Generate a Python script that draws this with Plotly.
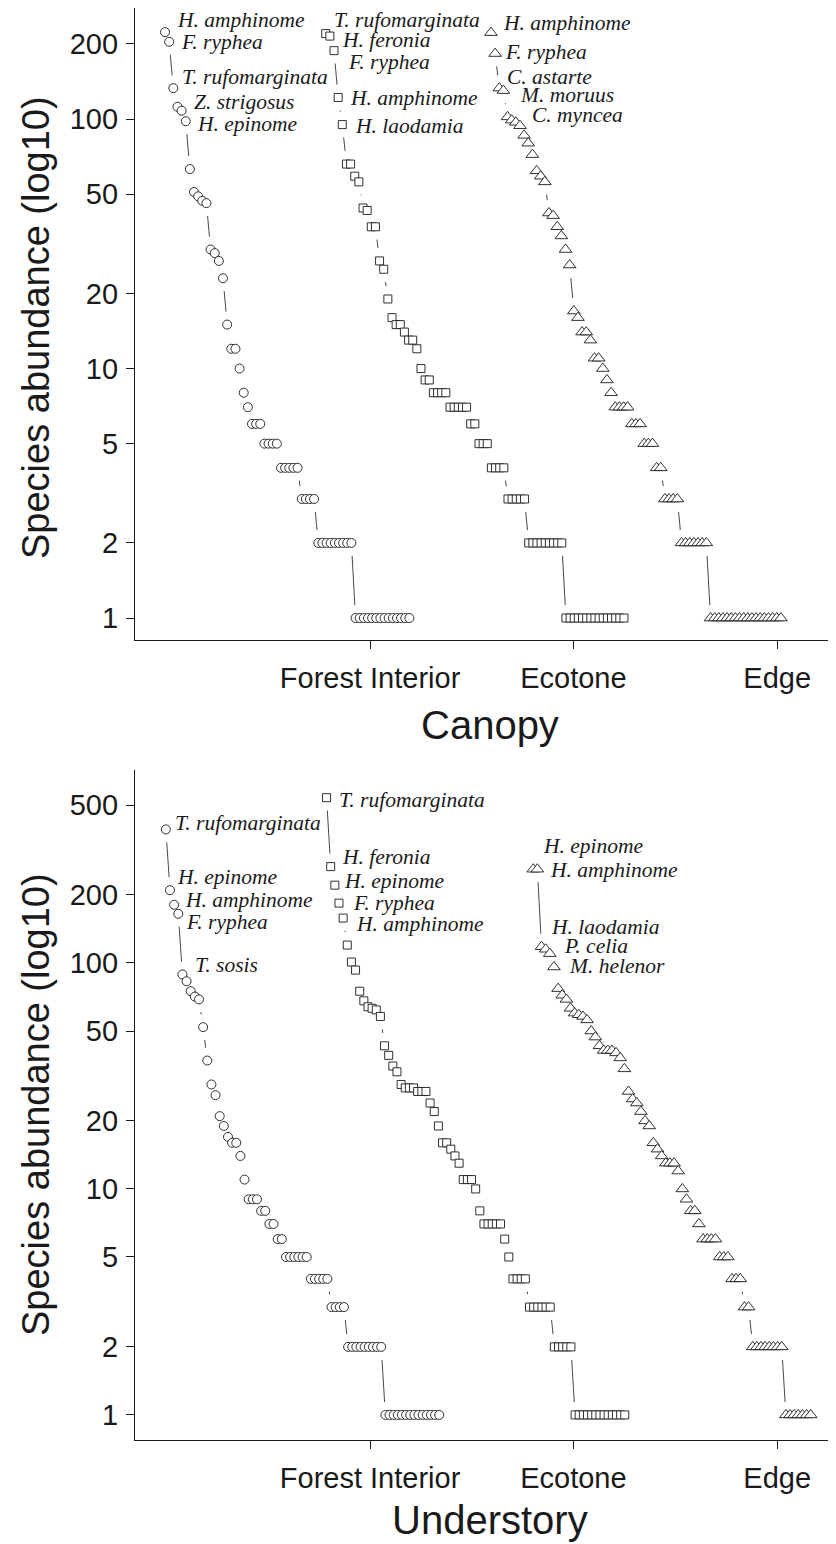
import numpy as np
import plotly.graph_objects as go

# ---------------- data ----------------
group_names = ["Forest Interior", "Ecotone", "Edge"]
group_tick_pos = [50.5, 99.6, 148.8]

top_yticks = [1, 2, 5, 10, 20, 50, 100, 200]
bottom_yticks = [1, 2, 5, 10, 20, 50, 100, 200, 500]

# Canopy (top panel) – rank-ordered abundances
canopy_forest = [223, 204, 133, 112, 108, 98, 63, 51, 49, 47, 46, 30, 29, 27, 23, 15, 12, 12, 10, 8, 7,
                 6, 6, 6, 5, 5, 5, 5, 4, 4, 4, 4, 4, 3, 3, 3, 3,
                 2, 2, 2, 2, 2, 2, 2, 2, 2,
                 1, 1, 1, 1, 1, 1, 1, 1, 1, 1, 1, 1, 1, 1]
canopy_ecotone = [220, 215, 188, 122, 95, 66, 66, 59, 56, 44, 43, 37, 37, 27, 25, 19, 16, 15, 15, 14, 13, 13,
                  12, 10, 9, 9, 8, 8, 8, 8, 7, 7, 7, 7, 7, 6, 6, 5, 5, 5, 4, 4, 4, 4, 3, 3, 3, 3, 3,
                  2, 2, 2, 2, 2, 2, 2, 2, 2,
                  1, 1, 1, 1, 1, 1, 1, 1, 1, 1, 1, 1, 1, 1, 1]
canopy_edge = [222, 183, 133, 130, 102, 99, 97, 94, 86, 80, 72, 62, 59, 56, 42, 41, 37, 34, 30, 26, 17, 16,
               14, 14, 13, 11, 11, 10, 9, 8, 7, 7, 7, 7, 6, 6, 6, 5, 5, 5, 4, 4, 3, 3, 3, 3,
               2, 2, 2, 2, 2, 2, 2,
               1, 1, 1, 1, 1, 1, 1, 1, 1, 1, 1, 1, 1, 1, 1, 1, 1, 1]

# Understory (bottom panel)
under_forest = [390, 210, 181, 165, 89, 83, 75, 71, 69, 52, 37, 29, 26, 21, 19, 17, 16, 16, 14, 11,
                9, 9, 9, 8, 8, 7, 7, 6, 6, 5, 5, 5, 5, 5, 5, 4, 4, 4, 4, 4, 3, 3, 3, 3,
                2, 2, 2, 2, 2, 2, 2, 2, 2,
                1, 1, 1, 1, 1, 1, 1, 1, 1, 1, 1, 1, 1, 1]
under_ecotone = [539, 267, 221, 184, 158, 120, 101, 93, 75, 68, 64, 63, 62, 58, 43, 39, 35, 33, 29, 28, 28,
                 28, 27, 27, 27, 24, 22, 19, 16, 16, 15, 14, 13, 11, 11, 11, 10, 8, 7, 7, 7, 7, 7, 6, 5,
                 4, 4, 4, 4, 3, 3, 3, 3, 3, 3, 2, 2, 2, 2, 2,
                 1, 1, 1, 1, 1, 1, 1, 1, 1, 1, 1, 1, 1]
under_edge = [260, 260, 118, 115, 110, 96, 77, 72, 69, 63, 60, 59, 58, 56, 50, 47, 43, 41, 41, 41, 40, 38,
              34, 27, 25, 24, 22, 20, 19, 16, 15, 14, 13, 13, 13, 12, 10, 9, 8, 8, 7,
              6, 6, 6, 6, 5, 5, 5, 4, 4, 4, 3, 3,
              2, 2, 2, 2, 2, 2, 2, 2,
              1, 1, 1, 1, 1, 1, 1]

# species labels: (rank, text, x shift px, y shift px)
canopy_forest_labels = [(1, "H. amphinome", 10, 12), (2, "F. ryphea", 10, 0),
                        (3, "T. rufomarginata", 7, 11), (4, "Z. strigosus", 15, 5),
                        (6, "H. epinome", 9, -3)]
canopy_ecotone_labels = [(1, "T. rufomarginata", 6, 14), (2, "H. feronia", 10, -4),
                         (3, "F. ryphea", 12, -11), (4, "H. amphinome", 10, -1),
                         (5, "H. laodamia", 11, -1)]
canopy_edge_labels = [(1, "H. amphinome", 10, 10), (2, "F. ryphea", 8, 2),
                      (3, "C. astarte", 6, 11), (4, "M. moruus", 15, -4),
                      (5, "C. myncea", 22, 2)]
under_forest_labels = [(1, "T. rufomarginata", 7, 6), (2, "H. epinome", 5, 13),
                       (3, "H. amphinome", 9, 5), (4, "F. ryphea", 6, -8),
                       (5, "T. sosis", 11, 9)]
under_ecotone_labels = [(1, "T. rufomarginata", 10, -2), (2, "H. feronia", 9, 10),
                        (3, "H. epinome", 7, 4), (4, "F. ryphea", 12, 0),
                        (5, "H. amphinome", 11, -6)]
under_edge_labels = [(1, "H. epinome", 8, 23), (2, "H. amphinome", 11, -1),
                     (3, "H. laodamia", 7, 20), (4, "P. celia", 16, 3),
                     (6, "M. helenor", 13, 1)]

# ---------------- layout constants ----------------
# the page body adds an 8 px margin, so the figure is drawn 8 px smaller and
# positions below are given in page pixels, converted with PAD.
PAGE_W, PAGE_H, PAD = 836, 1544, 8
W, H = PAGE_W - PAD, PAGE_H - PAD


def px_x(p):
    return (p - PAD) / W


def px_y(p):
    return 1 - (p - PAD) / H


X_RANGE = [-6.25, 163.0]
TOP_Y_RANGE = [-0.088, 2.445]
BOT_Y_RANGE = [-0.111, 2.854]
x_dom = [px_x(135), 1.0]
top_dom = [px_y(640), px_y(8)]
bot_dom = [px_y(1440), px_y(770)]

INK = "#1a1a1a"
symbols = ["circle", "square", "triangle-up"]
sizes = [9, 8, 11]

panels = [
    dict(xa="x", ya="y", series=[canopy_forest, canopy_ecotone, canopy_edge],
         offsets=[0.0, 38.8, 78.7],
         labels=[canopy_forest_labels, canopy_ecotone_labels, canopy_edge_labels]),
    dict(xa="x2", ya="y2", series=[under_forest, under_ecotone, under_edge],
         offsets=[0.2, 39.0, 88.9],
         labels=[under_forest_labels, under_ecotone_labels, under_edge_labels]),
]

fig = go.Figure()
annotations = []

for p in panels:
    xs = [off + np.arange(1, len(s) + 1) for s, off in zip(p["series"], p["offsets"])]
    # connecting lines
    for x, s in zip(xs, p["series"]):
        fig.add_trace(go.Scatter(x=x, y=s, mode="lines", xaxis=p["xa"], yaxis=p["ya"],
                                 line=dict(color=INK, width=0.8), hoverinfo="skip",
                                 showlegend=False))
    # white halos give the gaps of an R type="b" plot
    for x, s in zip(xs, p["series"]):
        fig.add_trace(go.Scatter(x=x, y=s, mode="markers", xaxis=p["xa"], yaxis=p["ya"],
                                 marker=dict(symbol="circle", size=26, color="white",
                                             line=dict(width=0)),
                                 hoverinfo="skip", showlegend=False))
    # visible markers
    for x, s, sym, sz in zip(xs, p["series"], symbols, sizes):
        fig.add_trace(go.Scatter(x=x, y=s, mode="markers", xaxis=p["xa"], yaxis=p["ya"],
                                 marker=dict(symbol=sym, size=sz, color="white",
                                             line=dict(color=INK, width=0.9)),
                                 showlegend=False))
    # species labels
    for s, off, labs in zip(p["series"], p["offsets"], p["labels"]):
        for rank, txt, dx, dy in labs:
            annotations.append(dict(
                x=off + rank, y=float(np.log10(s[rank - 1])), xref=p["xa"], yref=p["ya"],
                text="<i>" + txt + "</i>", showarrow=False, xanchor="left", yanchor="middle",
                xshift=dx, yshift=dy,
                font=dict(family="Liberation Serif, Times New Roman, serif", size=21.5, color=INK)))

# axis titles
title_font_y = dict(size=38, color=INK)
title_font_x = dict(size=40, color=INK)
annotations += [
    dict(x=px_x(36), y=px_y(328), xref="paper", yref="paper", text="Species abundance (log10)",
         textangle=-90, showarrow=False, xanchor="center", yanchor="middle", font=title_font_y),
    dict(x=px_x(36), y=px_y(1105), xref="paper", yref="paper", text="Species abundance (log10)",
         textangle=-90, showarrow=False, xanchor="center", yanchor="middle", font=title_font_y),
    dict(x=px_x(490), y=px_y(725), xref="paper", yref="paper", text="Canopy",
         showarrow=False, xanchor="center", yanchor="middle", font=title_font_x),
    dict(x=px_x(490), y=px_y(1520), xref="paper", yref="paper", text="Understory",
         showarrow=False, xanchor="center", yanchor="middle", font=title_font_x),
]

axis_common = dict(showline=True, linecolor=INK, linewidth=1.2, ticks="outside", ticklen=8,
                   tickwidth=1.2, tickcolor=INK, showgrid=False, zeroline=False,
                   tickfont=dict(size=29, color=INK))

fig.update_layout(
    width=W, height=H, margin=dict(l=0, r=0, t=0, b=0),
    paper_bgcolor="white", plot_bgcolor="white",
    font=dict(family="Liberation Sans, Arial, sans-serif", color=INK),
    showlegend=False,
    xaxis=dict(domain=x_dom, anchor="y", range=X_RANGE, tickvals=group_tick_pos,
               ticktext=group_names, ticklabelstandoff=4, **axis_common),
    yaxis=dict(domain=top_dom, anchor="x", type="log", range=TOP_Y_RANGE,
               tickvals=top_yticks, ticktext=[str(v) for v in top_yticks],
               ticklabelstandoff=2, **axis_common),
    xaxis2=dict(domain=x_dom, anchor="y2", range=X_RANGE, tickvals=group_tick_pos,
                ticktext=group_names, ticklabelstandoff=4, **axis_common),
    yaxis2=dict(domain=bot_dom, anchor="x2", type="log", range=BOT_Y_RANGE,
                tickvals=bottom_yticks, ticktext=[str(v) for v in bottom_yticks],
                ticklabelstandoff=2, **axis_common),
    annotations=annotations,
)

fig.write_html("out.html")
